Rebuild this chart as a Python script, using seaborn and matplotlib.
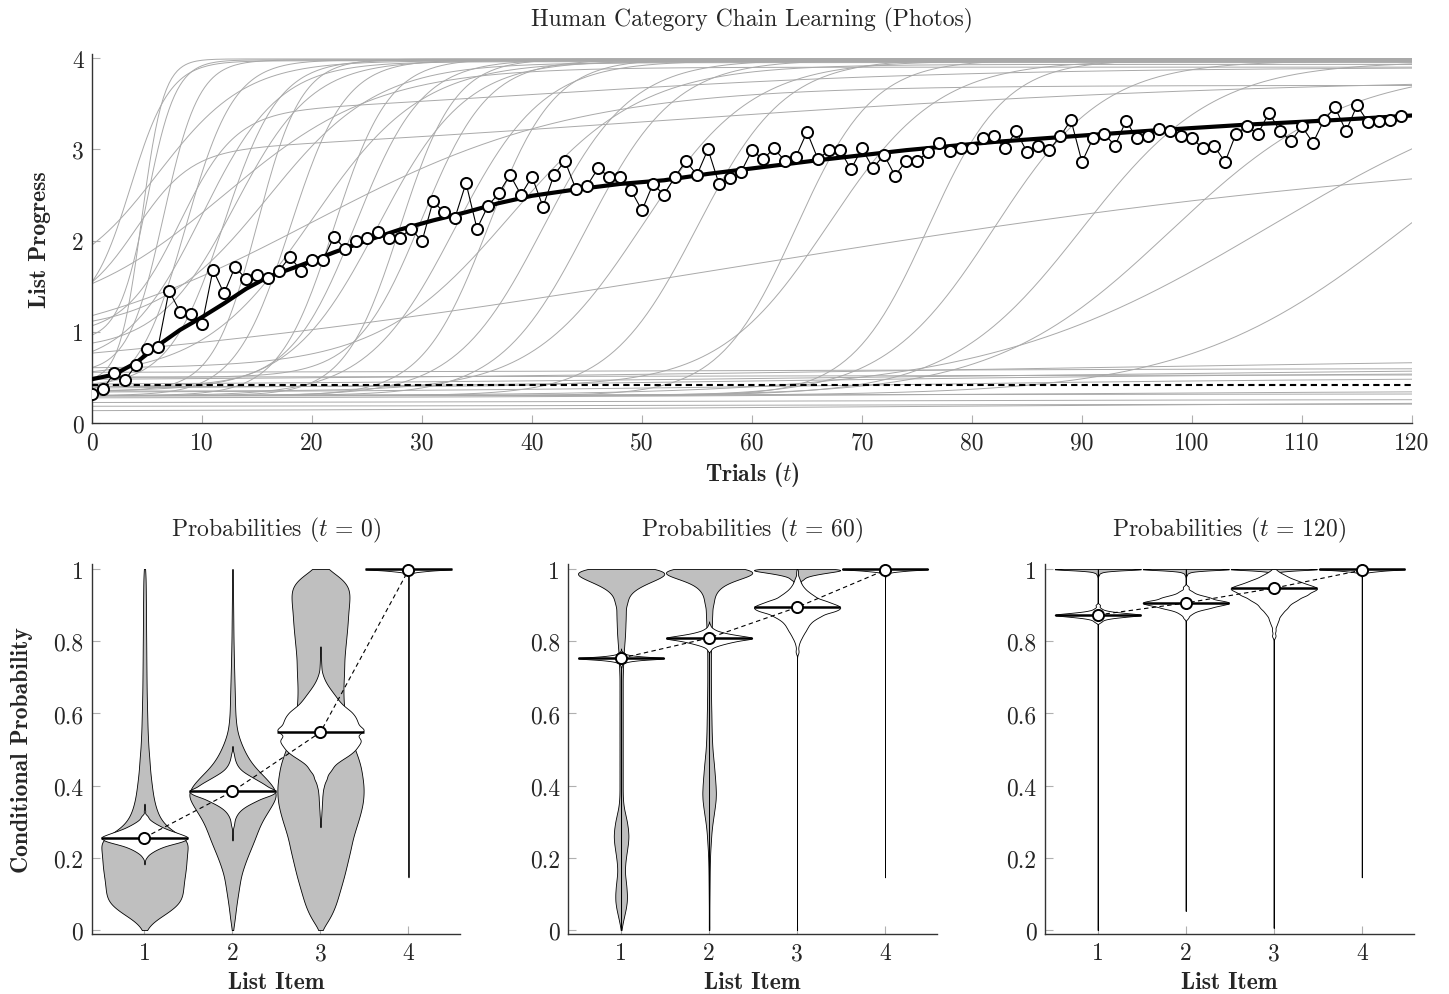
import numpy as np
import pandas as pd
import matplotlib
matplotlib.use("Agg")
import matplotlib.pyplot as plt
import seaborn as sns

# ---------------- top panel: list progress over trials ----------------
obs_progress = [
    0.32, 0.37, 0.545, 0.47, 0.635, 0.81, 0.83, 1.45, 1.22, 1.20,
    1.08, 1.68, 1.42, 1.71, 1.58, 1.62, 1.59, 1.67, 1.82, 1.67,
    1.79, 1.79, 2.04, 1.91, 1.99, 2.03, 2.09, 2.03, 2.03, 2.13,
    1.99, 2.43, 2.31, 2.25, 2.63, 2.13, 2.38, 2.52, 2.72, 2.50,
    2.70, 2.37, 2.72, 2.87, 2.56, 2.60, 2.79, 2.70, 2.70, 2.55,
    2.33, 2.62, 2.50, 2.70, 2.87, 2.72, 3.00, 2.62, 2.69, 2.75,
    2.99, 2.89, 3.01, 2.87, 2.92, 3.19, 2.89, 2.99, 2.99, 2.78,
    3.01, 2.79, 2.94, 2.71, 2.87, 2.87, 2.97, 3.07, 2.98, 3.01,
    3.01, 3.12, 3.15, 3.01, 3.20, 2.97, 3.04, 2.99, 3.14, 3.32,
    2.86, 3.12, 3.17, 3.04, 3.31, 3.12, 3.14, 3.22, 3.20, 3.14,
    3.12, 3.01, 3.04, 2.86, 3.17, 3.25, 3.17, 3.40, 3.20, 3.09,
    3.25, 3.07, 3.32, 3.46, 3.20, 3.48, 3.30, 3.31, 3.32, 3.36,
]
obs_trials = np.arange(len(obs_progress))

mean_trials = [0, 2, 4, 6, 8, 10, 12, 14, 16, 19, 22, 25, 28, 31, 34, 37, 40,
               44, 48, 52, 56, 60, 66, 74, 82, 90, 97, 105, 113, 120]
mean_progress = [0.48, 0.53, 0.66, 0.85, 1.02, 1.16, 1.31, 1.47, 1.60, 1.73,
                 1.87, 2.00, 2.12, 2.22, 2.31, 2.41, 2.49, 2.56, 2.62, 2.66,
                 2.73, 2.79, 2.88, 2.99, 3.08, 3.15, 3.21, 3.27, 3.32, 3.37]

chance_level = 0.42

# individual learners: start level, end level, trial of steepest rise, rise width
curve_lo = [0.45, 0.9, 0.55, 1.2, 0.3, 0.6, 0.4, 0.8, 0.35, 1.0, 0.3, 0.5,
            0.3, 0.4, 0.35, 0.3, 0.5, 0.3, 0.3, 0.6, 0.3, 0.3, 0.35, 0.3,
            0.3, 0.4, 0.3, 0.3, 0.3, 0.3, 0.3, 0.3, 0.3, 1.1, 1.5, 0.7,
            0.12, 0.18, 0.22, 0.27, 0.3, 0.33, 0.36, 0.4, 0.45, 0.5, 0.55]
curve_hi = [3.99, 3.98, 3.98, 3.97, 3.98, 3.96, 3.98, 3.97, 3.99, 3.95, 3.98, 3.96,
            3.99, 3.98, 3.97, 3.99, 3.98, 3.97, 3.99, 3.93, 3.98, 3.98, 3.97, 3.99,
            3.98, 3.97, 3.98, 3.97, 3.96, 3.9, 4.0, 4.0, 3.1, 3.9, 3.97, 3.7,
            0.25, 0.21, 0.26, 0.36, 0.32, 0.5, 0.56, 0.63, 0.76, 0.53, 0.6]
curve_mid = [4.5, 5, 6.5, 3.5, 8.5, 10, 12, 13, 15, 16, 18, 20,
             22, 24, 26, 28, 30, 33, 36, 38, 41, 45, 50, 55,
             64, 67, 76, 82, 90, 98, 107, 119.5, 58, 12, 6, 20,
             80, 60, 60, 80, 60, 70, 60, 80, 90, 60, 60]
curve_wid = [1.0, 1.3, 1.6, 1.8, 2.2, 3.5, 2.5, 3.5, 2.0, 5, 2.5, 5,
             2.5, 3, 4, 2.5, 3, 4, 3, 6, 4, 4, 5, 4,
             3.5, 5, 3.5, 5, 6, 8, 13, 10, 36, 7, 4, 12,
             40, 30, 30, 30, 30, 25, 30, 40, 40, 30, 30]

# two-stage learners: fast jump then slow drift
stage_lo = [1.1, 0.9]
stage_jump = [1.7, 2.4]
stage_jump_mid = [4, 8]
stage_jump_wid = [2.5, 2.5]
stage_drift = [1.0, 0.6]
stage_drift_mid = [50, 40]
stage_drift_wid = [30, 20]

# ---------------- bottom panels: conditional probability violins ----------------
items = ["1", "2", "3", "4"]


def steps(lo, hi, step):
    return list(np.round(np.arange(lo, hi + step / 2, step), 4))


# t = 0, outer (grey) violins: level -> relative width
t0_outer1_v = steps(0, 1, 0.025)
t0_outer1_w = [0.02, 0.2, 0.55, 0.8, 0.86, 0.87, 0.9, 0.93, 0.94, 0.96, 1.0,
               0.6, 0.39, 0.29, 0.23, 0.19, 0.165, 0.14, 0.12, 0.11, 0.09,
               0.08, 0.07, 0.065, 0.06, 0.055, 0.05, 0.047, 0.045, 0.043, 0.041,
               0.04, 0.038, 0.036, 0.035, 0.034, 0.032, 0.03, 0.028, 0.025, 0.015]
t0_outer2_v = steps(0, 1, 0.025)
t0_outer2_w = [0.01, 0.045, 0.065, 0.09, 0.12, 0.15, 0.18, 0.24, 0.31, 0.39, 0.47,
               0.54, 0.62, 0.74, 0.86, 0.97, 0.86, 0.68, 0.48, 0.34, 0.24,
               0.16, 0.10, 0.075, 0.06, 0.055, 0.05, 0.045, 0.04, 0.035, 0.03,
               0.026, 0.022, 0.02, 0.018, 0.016, 0.014, 0.012, 0.01, 0.008, 0.005]
t0_outer3_v = steps(0, 1, 0.025)
t0_outer3_w = [0.02, 0.18, 0.29, 0.37, 0.43, 0.49, 0.55, 0.6, 0.65, 0.7, 0.74,
               0.8, 0.87, 0.93, 0.98, 1.0, 1.0, 0.97, 0.94, 0.88, 0.8,
               0.72, 0.65, 0.6, 0.56, 0.54, 0.53, 0.53, 0.54, 0.55, 0.55,
               0.57, 0.59, 0.61, 0.63, 0.64, 0.66, 0.68, 0.66, 0.5, 0.15]

# t = 0, inner (white) violins
t0_inner1_v = [0.182, 0.19, 0.2, 0.205, 0.21, 0.215, 0.22, 0.225, 0.23, 0.235,
               0.24, 0.245, 0.25, 0.256, 0.262, 0.268, 0.274, 0.28, 0.286, 0.292,
               0.298, 0.304, 0.31, 0.316, 0.33, 0.35]
t0_inner1_w = [0.0, 0.01, 0.03, 0.06, 0.1, 0.16, 0.22, 0.3, 0.39, 0.5,
               0.68, 0.8, 0.9, 1.0, 0.86, 0.74, 0.6, 0.47, 0.37, 0.28,
               0.2, 0.13, 0.08, 0.05, 0.01, 0.0]
t0_inner2_v = [0.248, 0.27, 0.29, 0.30, 0.31, 0.32, 0.33, 0.34, 0.35, 0.36,
               0.37, 0.377, 0.384, 0.39, 0.40, 0.41, 0.42, 0.43, 0.44, 0.45,
               0.46, 0.47, 0.48, 0.49, 0.51]
t0_inner2_w = [0.0, 0.01, 0.025, 0.04, 0.06, 0.1, 0.16, 0.26, 0.4, 0.58,
               0.78, 0.9, 1.0, 0.92, 0.78, 0.63, 0.49, 0.35, 0.22, 0.14,
               0.09, 0.06, 0.04, 0.02, 0.0]
t0_inner3_v = [0.285, 0.30, 0.32, 0.34, 0.36, 0.38, 0.40, 0.42, 0.44, 0.455,
               0.47, 0.485, 0.50, 0.515, 0.53, 0.548, 0.56, 0.575, 0.59, 0.605,
               0.62, 0.635, 0.65, 0.665, 0.68, 0.695, 0.71, 0.73, 0.75, 0.786]
t0_inner3_w = [0.0, 0.01, 0.02, 0.03, 0.04, 0.05, 0.08, 0.15, 0.23, 0.3,
               0.48, 0.7, 0.85, 0.92, 0.96, 1.0, 0.96, 0.9, 0.84, 0.75,
               0.56, 0.44, 0.35, 0.25, 0.16, 0.09, 0.04, 0.02, 0.01, 0.0]

# item 4 is a spike at 1 in every panel
item4_v = [0.146, 0.5, 0.9, 0.95, 0.97, 0.98, 0.985, 0.99, 0.995, 1.0]
item4_w = [0.0, 0.0, 0.0, 0.0, 0.0, 0.005, 0.02, 0.08, 0.35, 1.0]

# t = 60
t60_outer1_v = steps(0, 0.9, 0.02) + steps(0.91, 1.0, 0.01)
t60_outer1_w = [0.005, 0.03, 0.06, 0.09, 0.11, 0.11, 0.1, 0.085, 0.07, 0.075,
                0.09, 0.11, 0.13, 0.14, 0.13, 0.11, 0.08, 0.05, 0.035, 0.03, 0.03,
                0.03, 0.03, 0.03, 0.03, 0.03, 0.03, 0.03, 0.03, 0.03, 0.03,
                0.03, 0.03, 0.03, 0.03, 0.03,
                0.035, 0.04, 0.045, 0.055, 0.065, 0.075, 0.08, 0.085, 0.09, 0.1,
                0.11, 0.13, 0.16, 0.23, 0.33, 0.48, 0.65, 0.82, 0.93, 1.0]
t60_outer2_v = steps(0, 0.9, 0.02) + steps(0.91, 1.0, 0.01)
t60_outer2_w = [0.005, 0.005, 0.005, 0.005, 0.006, 0.007, 0.008, 0.009, 0.01, 0.012,
                0.015, 0.02, 0.028, 0.035, 0.045, 0.06, 0.078, 0.095, 0.11, 0.114, 0.108,
                0.1, 0.09, 0.08, 0.068, 0.057, 0.05, 0.045, 0.042, 0.04, 0.038,
                0.035, 0.033, 0.032, 0.03, 0.03,
                0.03, 0.03, 0.03, 0.032, 0.035, 0.04, 0.045, 0.048, 0.055, 0.065,
                0.075, 0.085, 0.1, 0.14, 0.19, 0.28, 0.43, 0.68, 0.85, 1.0]
t60_outer3_v = [0.0, 0.5, 0.8, 0.85, 0.9, 0.93, 0.95, 0.96, 0.97, 0.975,
                0.98, 0.985, 0.99, 0.995, 1.0]
t60_outer3_w = [0.0, 0.0, 0.0, 0.02, 0.04, 0.05, 0.06, 0.07, 0.09, 0.12,
                0.2, 0.35, 0.55, 0.8, 1.0]

t60_inner1_v = [0.0, 0.5, 0.72, 0.73, 0.736, 0.741, 0.745, 0.748, 0.751, 0.753,
                0.755, 0.758, 0.761, 0.765, 0.77, 0.78]
t60_inner1_w = [0.0, 0.0, 0.0, 0.005, 0.02, 0.06, 0.15, 0.3, 0.6, 1.0,
                0.6, 0.3, 0.15, 0.06, 0.02, 0.0]
t60_inner2_v = [0.0, 0.6, 0.76, 0.775, 0.78, 0.785, 0.79, 0.795, 0.8, 0.805,
                0.809, 0.813, 0.817, 0.821, 0.826, 0.832, 0.838, 0.845, 0.855]
t60_inner2_w = [0.0, 0.0, 0.0, 0.02, 0.05, 0.12, 0.24, 0.38, 0.55, 0.78,
                1.0, 0.78, 0.55, 0.38, 0.24, 0.12, 0.05, 0.02, 0.0]
t60_inner3_v = [0.0, 0.5, 0.7, 0.77, 0.78, 0.79, 0.80, 0.81, 0.82, 0.83,
                0.84, 0.85, 0.86, 0.87, 0.88, 0.887, 0.894, 0.901, 0.908, 0.915,
                0.925, 0.935, 0.945, 0.955, 0.965, 0.975, 0.99, 1.0]
t60_inner3_w = [0.0, 0.0, 0.0, 0.01, 0.02, 0.035, 0.06, 0.1, 0.14, 0.19,
                0.23, 0.28, 0.37, 0.52, 0.7, 0.85, 1.0, 0.85, 0.66, 0.52,
                0.38, 0.26, 0.17, 0.11, 0.07, 0.04, 0.02, 0.01]

# t = 120
t120_outer_v = [0.5, 0.9, 0.95, 0.97, 0.98, 0.985, 0.99, 0.994, 0.997, 1.0]
t120_outer_w = [0.0, 0.0, 0.0, 0.0, 0.005, 0.02, 0.05, 0.15, 0.4, 1.0]
t120_outer_bottom = [0.0, 0.053, 0.006]

t120_inner1_v = [0.0, 0.5, 0.84, 0.853, 0.857, 0.862, 0.866, 0.869, 0.873, 0.877,
                 0.88, 0.884, 0.889, 0.893, 0.9, 0.95, 1.0]
t120_inner1_w = [0.0, 0.0, 0.0, 0.03, 0.08, 0.17, 0.33, 0.55, 1.0, 0.55,
                 0.33, 0.17, 0.08, 0.03, 0.01, 0.0, 0.0]
t120_inner2_v = [0.053, 0.5, 0.8, 0.85, 0.865, 0.873, 0.879, 0.885, 0.89, 0.894,
                 0.9, 0.906, 0.912, 0.919, 0.924, 0.929, 0.935, 0.94, 0.95, 0.97, 1.0]
t120_inner2_w = [0.0, 0.0, 0.0, 0.0, 0.04, 0.09, 0.17, 0.28, 0.42, 0.58,
                 0.8, 1.0, 0.8, 0.58, 0.42, 0.28, 0.17, 0.09, 0.04, 0.0, 0.0]
t120_inner3_v = [0.006, 0.5, 0.78, 0.815, 0.83, 0.843, 0.852, 0.861, 0.871, 0.88,
                 0.889, 0.897, 0.905, 0.912, 0.918, 0.925, 0.931, 0.939, 0.947, 0.955,
                 0.963, 0.971, 0.98, 0.988, 0.995, 1.0]
t120_inner3_w = [0.0, 0.0, 0.0, 0.02, 0.035, 0.05, 0.08, 0.11, 0.14, 0.2,
                 0.27, 0.32, 0.38, 0.47, 0.55, 0.65, 0.75, 0.87, 1.0, 0.8,
                 0.6, 0.45, 0.3, 0.17, 0.08, 0.03]

t0_means = [0.256, 0.384, 0.548, 0.997]
t60_means = [0.753, 0.809, 0.894, 0.997]
t120_means = [0.873, 0.906, 0.947, 0.997]
modes_item4 = 1.0

# ---------------- style ----------------
sns.set_style("ticks")
plt.rcParams["font.family"] = ["cmr10", "DejaVu Serif"]
plt.rcParams["mathtext.fontset"] = "cm"
plt.rcParams["axes.formatter.use_mathtext"] = True
plt.rcParams["axes.unicode_minus"] = False

FS = 17
BOLD = ["cmb10", "DejaVu Serif"]


def style_axes(ax):
    sns.despine(ax=ax)
    for s in ("left", "bottom"):
        ax.spines[s].set_color("#333333")
        ax.spines[s].set_linewidth(1.0)
    ax.tick_params(direction="in", length=6, width=0.8, color="#b0b0b0",
                   labelsize=FS, pad=6)
    ax.set_xlabel("")
    ax.set_ylabel("")


def profile_sample(levels, widths, n=20000):
    lv = np.asarray(levels, float)
    wd = np.asarray(widths, float)
    assert len(lv) == len(wd)
    mass = wd * np.gradient(lv)
    counts = np.round(mass / mass.sum() * n).astype(int)
    counts[counts < 1] = 1
    return np.repeat(lv, counts)


def draw_violin(ax, pos, levels, widths, bw, color):
    sample = profile_sample(levels, widths)
    df = pd.DataFrame({"item": items[pos], "p": sample})
    sns.violinplot(data=df, x="item", y="p", order=items, color=color,
                   saturation=1, linecolor="black", linewidth=0.6, inner=None,
                   cut=0, gridsize=2000, density_norm="width", width=0.98,
                   bw_method=bw / sample.std(ddof=1), ax=ax)


fig = plt.figure(figsize=(14.49, 9.95), dpi=100)

# ---------------- top panel ----------------
ax = fig.add_axes([92 / 1449, 1 - 424 / 995, 1320 / 1449, 369 / 995])
trial_grid = np.linspace(0, 120, 481)
rows = []
for i in range(len(curve_lo)):
    prog = curve_lo[i] + (curve_hi[i] - curve_lo[i]) / (
        1 + np.exp(-(trial_grid - curve_mid[i]) / curve_wid[i]))
    rows.append(pd.DataFrame({"trial": trial_grid, "progress": prog, "curve": i}))
for j in range(len(stage_lo)):
    prog = (stage_lo[j]
            + stage_jump[j] / (1 + np.exp(-(trial_grid - stage_jump_mid[j]) / stage_jump_wid[j]))
            + stage_drift[j] / (1 + np.exp(-(trial_grid - stage_drift_mid[j]) / stage_drift_wid[j])))
    rows.append(pd.DataFrame({"trial": trial_grid, "progress": prog,
                              "curve": len(curve_lo) + j}))
curves = pd.concat(rows, ignore_index=True)

sns.lineplot(data=curves, x="trial", y="progress", units="curve", estimator=None,
             color="#a9a9a9", linewidth=0.7, ax=ax, legend=False)
ax.axhline(chance_level, color="black", linewidth=1.5, dashes=(3, 2), zorder=3)
sns.lineplot(x=mean_trials, y=mean_progress, color="black", linewidth=3.0, ax=ax,
             zorder=4)
sns.lineplot(x=obs_trials, y=obs_progress, color="black", linewidth=0.8,
             marker="o", markersize=8, markerfacecolor="white",
             markeredgecolor="black", markeredgewidth=1.4, ax=ax, zorder=5)
ax.set_xlim(0, 120)
ax.set_ylim(0, 4.044)
ax.set_xticks(range(0, 121, 10))
ax.set_yticks(range(0, 5))
ax.set_yticklabels([str(v) for v in range(0, 5)])
ax.set_xticklabels([str(v) for v in range(0, 121, 10)])
style_axes(ax)

fig.text(752 / 1449, 1 - 20 / 995, "Human Category Chain Learning (Photos)",
         ha="center", va="center", fontsize=FS)
fig.text(752 / 1449, 1 - 475 / 995, r"Trials ($t$)", ha="center", va="center",
         fontsize=FS, family=BOLD)
fig.text(40 / 1449, 1 - 240 / 995, "List Progress", ha="center", va="center",
         rotation=90, fontsize=FS, family=BOLD)

# ---------------- bottom panels ----------------
panels = [
    dict(title=r"Probabilities ($t$ = 0)", left=91.7,
         outer=[(t0_outer1_v, t0_outer1_w, 0.018), (t0_outer2_v, t0_outer2_w, 0.018),
                (t0_outer3_v, t0_outer3_w, 0.018)],
         inner=[(t0_inner1_v, t0_inner1_w, 0.0045), (t0_inner2_v, t0_inner2_w, 0.007),
                (t0_inner3_v, t0_inner3_w, 0.01), (item4_v, item4_w, 0.0025)],
         means=t0_means),
    dict(title=r"Probabilities ($t$ = 60)", left=568.3,
         outer=[(t60_outer1_v, t60_outer1_w, 0.012), (t60_outer2_v, t60_outer2_w, 0.012),
                (t60_outer3_v, t60_outer3_w, 0.004)],
         inner=[(t60_inner1_v, t60_inner1_w, 0.0025), (t60_inner2_v, t60_inner2_w, 0.0035),
                (t60_inner3_v, t60_inner3_w, 0.006), (item4_v, item4_w, 0.0025)],
         means=t60_means),
    dict(title=r"Probabilities ($t$ = 120)", left=1045.0,
         outer=[([b] + t120_outer_v, [0.0] + t120_outer_w, 0.002) for b in t120_outer_bottom],
         inner=[(t120_inner1_v, t120_inner1_w, 0.003), (t120_inner2_v, t120_inner2_w, 0.004),
                (t120_inner3_v, t120_inner3_w, 0.0055), (item4_v, item4_w, 0.0025)],
         means=t120_means),
]

xs = np.arange(len(items))
for k, pan in enumerate(panels):
    ax = fig.add_axes([pan["left"] / 1449, 1 - 935 / 995, 368.7 / 1449, 370 / 995])
    for pos, (lv, wd, bw) in enumerate(pan["outer"]):
        draw_violin(ax, pos, lv, wd, bw, "#bfbfbf")
    for pos, (lv, wd, bw) in enumerate(pan["inner"]):
        draw_violin(ax, pos, lv, wd, bw, "white")
    modes = pan["means"][:3] + [modes_item4]
    ax.hlines(modes, xs - 0.49, xs + 0.49, color="black", linewidth=1.8, zorder=4)
    ax.plot(xs, pan["means"], color="black", linewidth=0.8, dashes=(4, 3), zorder=5)
    ax.plot(xs, pan["means"], "o", markersize=8, markerfacecolor="white",
            markeredgecolor="black", markeredgewidth=1.4, zorder=6)
    ax.set_xlim(-0.6, 3.59)
    ax.set_ylim(-0.011, 1.014)
    ax.set_xticks(xs)
    ax.set_xticklabels(items)
    ax.set_yticks([0, 0.2, 0.4, 0.6, 0.8, 1.0])
    ax.set_yticklabels(["0", "0.2", "0.4", "0.6", "0.8", "1"])
    style_axes(ax)
    cx = (pan["left"] + 368.7 / 2) / 1449
    fig.text(cx, 1 - 530 / 995, pan["title"], ha="center", va="center", fontsize=FS)
    fig.text(cx, 1 - 983 / 995, "List Item", ha="center", va="center",
             fontsize=FS, family=BOLD)

fig.text(22 / 1449, 1 - 750 / 995, "Conditional Probability", ha="center",
         va="center", rotation=90, fontsize=FS, family=BOLD)

fig.savefig("out.png", dpi=100)
